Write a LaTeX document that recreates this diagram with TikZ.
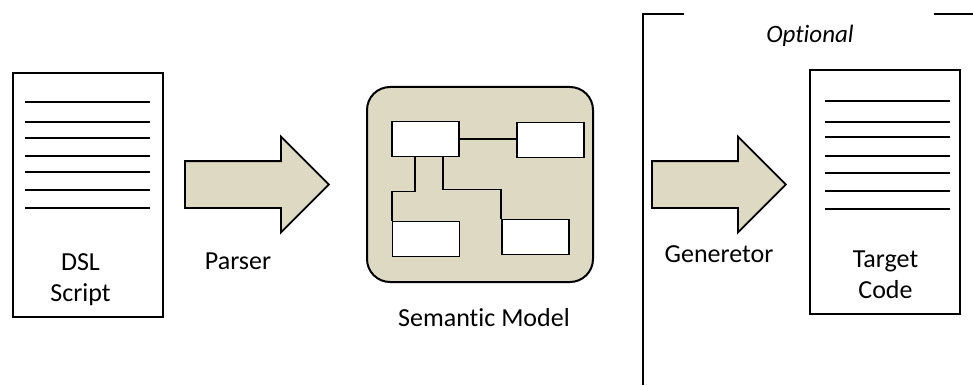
\documentclass[tikz,border=0pt]{standalone}
\usepackage{fontspec}
\setmainfont{Carlito}[Ligatures=NoCommon]
\usetikzlibrary{shapes,arrows,positioning}
\definecolor{modeltan}{RGB}{221,217,195}

\begin{document}
\begin{tikzpicture}[x=1pt, y=-1pt,
    doc/.style={draw, line width=2pt, minimum width=150pt, minimum height=243pt},
    textline/.style={line width=2pt},
    bigarrow/.style={single arrow, draw, line width=1.8pt, fill=modeltan, inner xsep=0pt, inner ysep=22.5pt, minimum height=144pt, minimum width=94pt, single arrow head extend=24.5pt, anchor=tail},
    part/.style={draw, line width=1.8pt, fill=white, minimum width=67pt, minimum height=35pt},
    txt/.style={font=\fontsize{26}{31}\selectfont, align=center}
]
\useasboundingbox (0,0) rectangle (973,385);

% DSL script
\node[doc] (dsl) at (87.5,195) {};
\foreach \y in {102,122,138,156,172,190,208}
    \draw[textline] (25,\y) -- (150,\y);
\node[txt] (dsltext) at (80.5,280) {DSL\\Script};

% Parser
\node[bigarrow] (parser) at (184,184.5) {};
\node[txt, anchor=base] (parsertext) at (238,269) {Parser};

% Semantic model
\node[draw, line width=2pt, fill=modeltan, rounded corners=23pt, minimum width=226pt, minimum height=195pt] (model) at (480,184.5) {};
\node[part] (sm1) at (425.5,139) {};
\node[part] (sm2) at (550.5,140) {};
\node[part] (sm3) at (426,239) {};
\node[part] (sm4) at (535.5,237) {};
\draw[line width=1.8pt] (sm1.east) -- (sm2.west |- sm1.east);
\draw[line width=1.8pt] ([xshift=-10.5pt]sm1.south) -- ++(0,34) -| (sm3.north west);
\draw[line width=1.8pt] ([xshift=17.5pt]sm1.south) -- ++(0,32) -| (sm4.north west);
\node[txt, anchor=base] (modeltext) at (484,326) {Semantic Model};

% Optional part
\draw[line width=2.5pt] (684,14) -- (643,14) -- (643,385);
\draw[line width=2.5pt] (934,14) -- (973,14);
\node[txt, anchor=base, font=\fontsize{25}{30}\selectfont\itshape] (optional) at (810,43) {Optional};

% Generator
\node[bigarrow, minimum height=134pt, minimum width=93pt] (generator) at (651,184.5) {};
\node[txt, anchor=base] (generatortext) at (719,262) {Generetor};

% Target code
\node[doc] (target) at (884.5,192) {};
\foreach \y in {101,122,137,156,173,191,209}
    \draw[textline] (825,\y) -- (950,\y);
\node[txt] (targettext) at (885.5,275) {Target\\Code};

\end{tikzpicture}
\end{document}
